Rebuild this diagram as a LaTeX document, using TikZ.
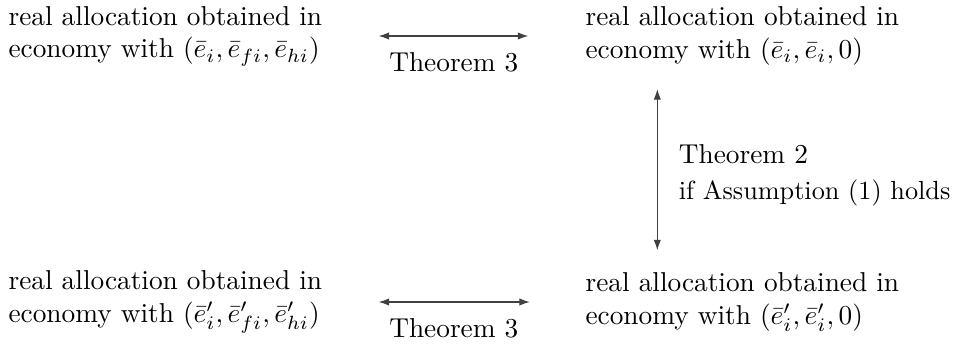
\documentclass[tikz,border=0pt]{standalone}
\usepackage{amsmath}
\usepackage{amssymb}
\usepackage{tikz}
\usetikzlibrary{arrows.meta, positioning, calc}

\begin{document}
\begin{tikzpicture}[
  x=0.01287cm, y=-0.01287cm,
  % Economy boxes are plain text, no frame.
  econ/.style={inner sep=0pt, align=left, anchor=west},
  biarrow/.style={{Latex[length=1.35mm, width=0.95mm]}-{Latex[length=1.35mm, width=0.95mm]}, line width=0.4pt, color=black!75},
  thm/.style={inner sep=2pt, align=left, text=black}
]
\useasboundingbox (0,0) rectangle (963,345);

% --- Top row ---
\node[econ] (tl) at (8, 36) {real allocation obtained in\\economy with $(\bar e_i, \bar e_{fi}, \bar e_{hi})$};
\node[econ] (tr) at (585, 36) {real allocation obtained in\\economy with $(\bar e_i, \bar e_i, 0)$};

% --- Bottom row ---
\node[econ] (bl) at (8, 302) {real allocation obtained in\\economy with $(\bar e'_i, \bar e'_{fi}, \bar e'_{hi})$};
\node[econ] (br) at (585, 302) {real allocation obtained in\\economy with $(\bar e'_i, \bar e'_i, 0)$};

% --- Horizontal arrows ---
\draw[biarrow, shorten <=0.72cm, shorten >=0.73cm] (tl) -- (tr)
  node[midway, below=0.13cm, thm] {Theorem 3};
\draw[biarrow, shorten <=0.72cm, shorten >=0.71cm] (bl) -- (br)
  node[midway, below=0.13cm, thm] {Theorem 3};

% --- Vertical arrow ---
\draw[biarrow, shorten <=0.3cm, shorten >=0.28cm] ([xshift=0.93cm]tr.south west) -- ([xshift=0.93cm]br.north west)
  node[midway, right=0.2cm, yshift=-0.08cm, thm] {Theorem 2\\[1pt]\fontsize{9.6}{11}\selectfont if Assumption (1) holds};

\end{tikzpicture}
\end{document}
